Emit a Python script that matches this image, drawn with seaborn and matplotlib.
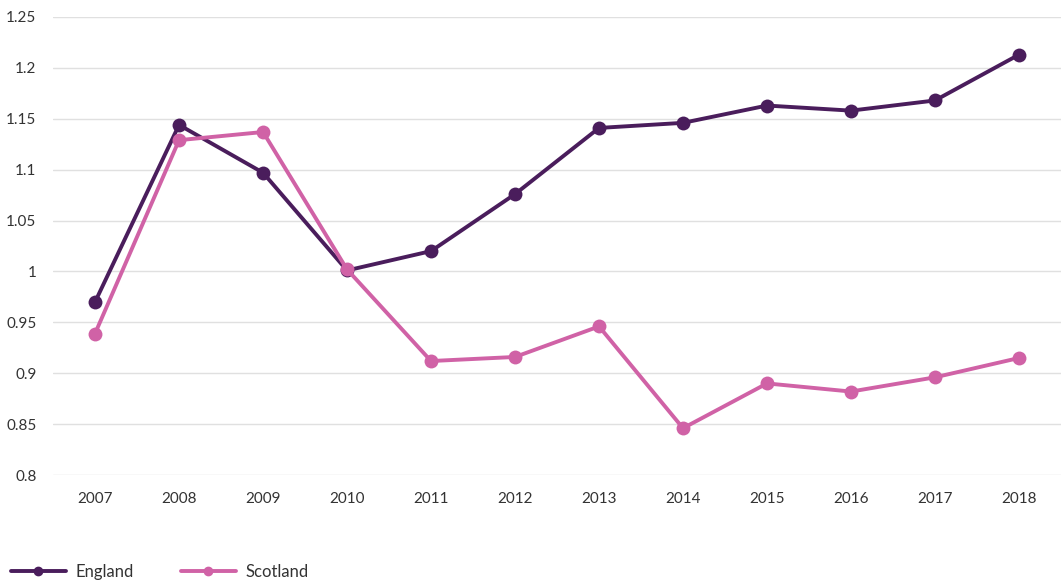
import matplotlib
matplotlib.use("Agg")
import matplotlib.pyplot as plt
from matplotlib.lines import Line2D
import seaborn as sns
import pandas as pd

years = [2007, 2008, 2009, 2010, 2011, 2012, 2013, 2014, 2015, 2016, 2017, 2018]
england = [0.970, 1.144, 1.097, 1.001, 1.020, 1.076, 1.141, 1.146, 1.163, 1.158, 1.168, 1.213]
scotland = [0.939, 1.129, 1.137, 1.002, 0.912, 0.916, 0.946, 0.846, 0.890, 0.882, 0.896, 0.915]
yticks = [0.8, 0.85, 0.9, 0.95, 1.0, 1.05, 1.1, 1.15, 1.2, 1.25]
ytick_labels = ["0.8", "0.85", "0.9", "0.95", "1", "1.05", "1.1", "1.15", "1.2", "1.25"]

colors = {"England": "#4a1d5c", "Scotland": "#d062a6"}

df = pd.DataFrame({
    "year": [str(y) for y in years] * 2,
    "value": england + scotland,
    "region": ["England"] * len(years) + ["Scotland"] * len(years),
})

sns.set_style("white")
plt.rcParams["font.family"] = ["Lato", "DejaVu Sans"]

fig = plt.figure(figsize=(10.61, 5.82), dpi=100)
ax = fig.add_axes([0.05, 0.1838, 0.95, 0.787])

sns.lineplot(data=df, x="year", y="value", hue="region", palette=colors,
             linewidth=2.8, marker="o", markersize=10, markeredgewidth=0,
             legend=False, ax=ax, sort=False)

ax.set_ylim(0.8, 1.25)
ax.set_xlim(-0.5, 11.5)
ax.set_yticks(yticks)
ax.set_yticklabels(ytick_labels)
ax.yaxis.grid(True, color="#e0e0e0", linewidth=1)
ax.set_axisbelow(True)
for s in ax.spines.values():
    s.set_visible(False)
ax.tick_params(axis="both", length=0, labelsize=11, colors="#333333")
ax.tick_params(axis="y", pad=12)
ax.tick_params(axis="x", pad=12)
ax.set_xlabel("")
ax.set_ylabel("")

handles = [Line2D([], [], color=colors[k], linewidth=2.8, marker="o", markersize=6)
           for k in ["England", "Scotland"]]
fig.legend(handles, ["England", "Scotland"], loc="lower left",
           bbox_to_anchor=(-0.004, -0.022), ncol=2, frameon=False,
           handlelength=3.3, handletextpad=0.6, columnspacing=2.8,
           fontsize=12, labelcolor="#333333")

fig.savefig("out.png", dpi=100)
